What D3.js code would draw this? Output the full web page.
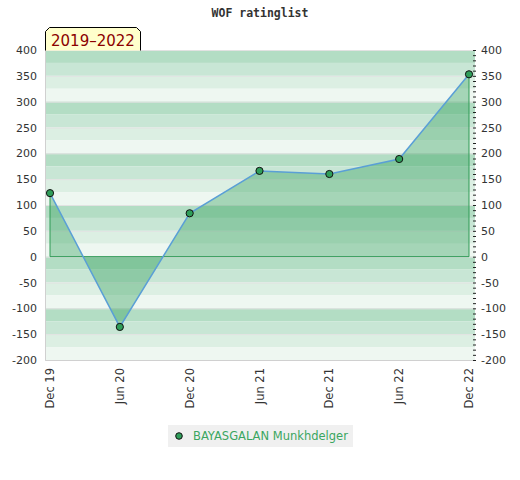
<!DOCTYPE html>
<html>
<head>
<meta charset="utf-8">
<script src="https://cdn.jsdelivr.net/npm/d3@7"></script>
<style>
  body { margin: 0; background: #fff; }
  svg { display: block; font-family: 'DejaVu Sans', sans-serif; }
</style>
</head>
<body>
<svg id="chart" width="520" height="480"></svg>
<script>
const periods = ['Dec 19', 'Jun 20', 'Dec 20', 'Jun 21', 'Dec 21', 'Jun 22', 'Dec 22'];
const ratings = [123, -136, 84, 166, 160, 189, 353];
const yTicks = [400, 350, 300, 250, 200, 150, 100, 50, 0, -50, -100, -150, -200];
const playerName = 'BAYASGALAN Munkhdelger';
const rangeLabel = '2019–2022';

const svg = d3.select('#chart');

const plot = { left: 45, right: 475, top: 50, bottom: 360 };

const x = d3.scaleLinear()
  .domain([0, periods.length - 1])
  .range([50, 469]);

const y = d3.scaleLinear()
  .domain([-200, 400])
  .range([plot.bottom, plot.top]);

const bandColors = ['#b3ddc4', '#c8e6d5', '#dcefe3', '#eef7f1'];

// background bands every 25 points
const bands = d3.range(400, -200, -25);
svg.append('g')
  .selectAll('rect')
  .data(bands)
  .join('rect')
  .attr('x', plot.left)
  .attr('y', (d) => y(d))
  .attr('width', plot.right - plot.left)
  .attr('height', (d) => y(d - 25) - y(d))
  .attr('fill', (d, i) => bandColors[i % 4]);

// grid lines
svg.append('g')
  .selectAll('line')
  .data(yTicks)
  .join('line')
  .attr('x1', plot.left)
  .attr('x2', plot.right)
  .attr('y1', (d) => y(d) + 0.5)
  .attr('y2', (d) => y(d) + 0.5)
  .attr('stroke', '#e2e2e2')
  .attr('stroke-width', 1);

// left and bottom border
svg.append('path')
  .attr('d', `M${plot.left + 0.5},${plot.top} V${plot.bottom + 0.5} H${plot.right}`)
  .attr('fill', 'none')
  .attr('stroke', '#d0d0d0');

// area between rating line and zero
const area = d3.area()
  .x((d, i) => x(i))
  .y0(y(0))
  .y1((d) => y(d));

svg.append('path')
  .datum(ratings)
  .attr('d', area)
  .attr('fill', '#2f9e5a')
  .attr('fill-opacity', 0.38);

// green outline of the area (edges and zero line)
const n = ratings.length - 1;
svg.append('path')
  .attr('d', `M${x(0)},${y(ratings[0])} V${y(0)} H${x(n)} V${y(ratings[n])}`)
  .attr('fill', 'none')
  .attr('stroke', '#2e9a55')
  .attr('stroke-width', 1);

const line = d3.line()
  .x((d, i) => x(i))
  .y((d) => y(d));

svg.append('path')
  .datum(ratings)
  .attr('d', line)
  .attr('fill', 'none')
  .attr('stroke', '#5a9fd6')
  .attr('stroke-width', 1.5);

svg.append('g')
  .selectAll('circle')
  .data(ratings)
  .join('circle')
  .attr('cx', (d, i) => x(i))
  .attr('cy', (d) => y(d))
  .attr('r', 3.6)
  .attr('fill', '#2f9e5a')
  .attr('stroke', '#111')
  .attr('stroke-width', 1);

// left axis labels
svg.append('g')
  .selectAll('text')
  .data(yTicks)
  .join('text')
  .attr('x', 37)
  .attr('y', (d) => y(d) + 4)
  .attr('text-anchor', 'end')
  .attr('font-size', 11)
  .attr('fill', '#333')
  .text((d) => d);

// right axis with minor ticks
const rightAxis = d3.axisRight(y)
  .tickValues(d3.range(-200, 401, 10))
  .tickSize(3)
  .tickFormat('');

svg.append('g')
  .attr('transform', `translate(${plot.right - 2},0)`)
  .call(rightAxis)
  .call((g) => g.select('.domain').remove())
  .call((g) => g.selectAll('.tick line').attr('stroke', '#222'));

svg.append('g')
  .selectAll('text')
  .data(yTicks)
  .join('text')
  .attr('x', 481)
  .attr('y', (d) => y(d) + 4)
  .attr('text-anchor', 'start')
  .attr('font-size', 11)
  .attr('fill', '#333')
  .text((d) => d);

// x labels, rotated
svg.append('g')
  .selectAll('text')
  .data(periods)
  .join('text')
  .attr('transform', (d, i) => `translate(${x(i) + 4},368) rotate(-90)`)
  .attr('text-anchor', 'end')
  .attr('font-size', 11.5)
  .attr('fill', '#333')
  .text((d) => d);

// title
svg.append('text')
  .attr('x', 260)
  .attr('y', 17)
  .attr('text-anchor', 'middle')
  .attr('font-family', "'DejaVu Sans Mono', monospace")
  .attr('font-weight', 'bold')
  .attr('font-size', 11.5)
  .attr('fill', '#333')
  .text('WOF ratinglist');

// period badge
svg.append('path')
  .attr('d', 'M45.5,50.5 V31.5 L49.5,27.5 H136.5 L140.5,31.5 V50.5')
  .attr('fill', '#ffffcc')
  .attr('stroke', '#000')
  .attr('stroke-width', 1);

svg.append('text')
  .attr('x', 51)
  .attr('y', 46)
  .attr('font-size', 15)
  .attr('fill', '#8b0000')
  .text(rangeLabel);

// legend
const legend = svg.append('g');
legend.append('rect')
  .attr('x', 168)
  .attr('y', 425)
  .attr('width', 185)
  .attr('height', 22)
  .attr('fill', '#f0f0f0');
legend.append('circle')
  .attr('cx', 179)
  .attr('cy', 436)
  .attr('r', 3.3)
  .attr('fill', '#2f9e5a')
  .attr('stroke', '#111');
legend.append('text')
  .attr('x', 193)
  .attr('y', 440)
  .attr('font-size', 11.5)
  .attr('fill', '#3aa660')
  .text(playerName);
</script>
</body>
</html>
